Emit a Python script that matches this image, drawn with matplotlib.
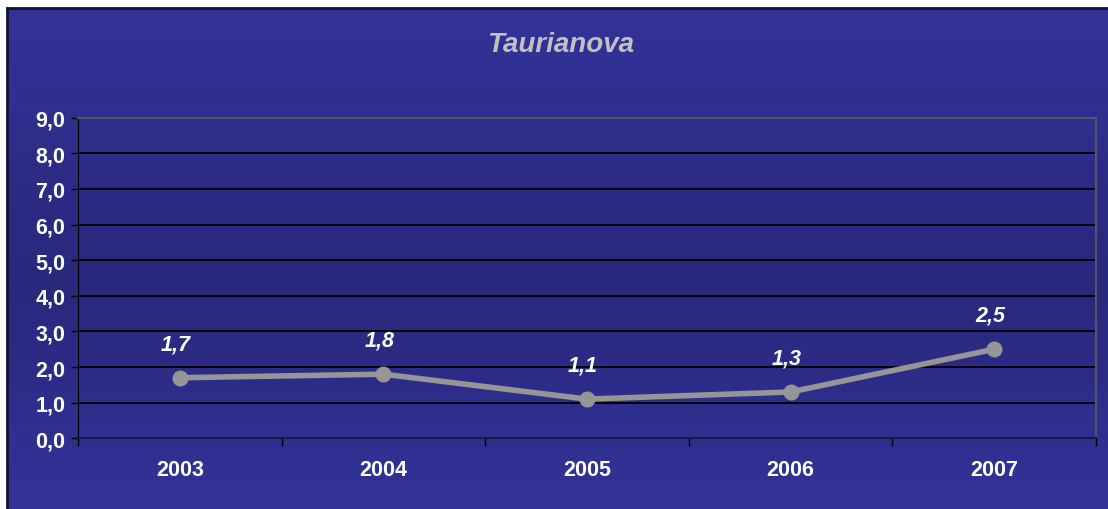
import numpy as np
import matplotlib
matplotlib.use("Agg")
import matplotlib.pyplot as plt
from matplotlib.colors import LinearSegmentedColormap

title = "Taurianova"
years = ["2003", "2004", "2005", "2006", "2007"]
values = [1.7, 1.8, 1.1, 1.3, 2.5]
yticks = [0, 1, 2, 3, 4, 5, 6, 7, 8, 9]

W, H = 1108, 510
fig = plt.figure(figsize=(W / 100, H / 100), dpi=100)
fig.patch.set_facecolor("white")

# background panel with vertical gradient
x0 = 7 / W
bg = fig.add_axes([x0, 0, 1 - x0, 1 - 9 / H])
cmap = LinearSegmentedColormap.from_list(
    "g", [(0.0, "#333399"), (0.55, "#28287c"), (1.0, "#333399")])
grad = np.linspace(0, 1, 256).reshape(-1, 1)
bg.imshow(grad, aspect="auto", cmap=cmap, extent=[0, 1, 0, 1], origin="upper")
bg.set_xlim(0, 1)
bg.set_ylim(0, 1)
bg.set_xticks([])
bg.set_yticks([])
for s in ["bottom", "right"]:
    bg.spines[s].set_visible(False)
for s in ["top", "left"]:
    bg.spines[s].set_color("#111133")
    bg.spines[s].set_linewidth(2)

FS = 15.5
# plot area
left, right = 78, 1096
top, bottom = 118.7, 439.3
ax = fig.add_axes([left / W, 1 - bottom / H, (right - left) / W, (bottom - top) / H])
ax.patch.set_alpha(0)
ax.set_ylim(0, 9)
ax.set_xlim(0, len(years))
ax.set_yticks(yticks)
ax.set_yticklabels([f"{v:.1f}".replace(".", ",") for v in yticks],
                   color="white", fontsize=FS, fontweight="bold",
                   family="Liberation Sans")
for v in yticks[1:-1]:
    ax.axhline(v, color="black", lw=1.3, zorder=1)
ax.tick_params(axis="y", length=5, color="black", width=1, pad=4)

ax.set_xticks(np.arange(len(years) + 1))
ax.set_xticklabels([])
ax.set_xticks(np.arange(len(years)) + 0.5, minor=True)
ax.set_xticklabels(years, minor=True, color="white", fontsize=FS,
                   fontweight="bold", family="Liberation Sans")
ax.tick_params(axis="x", which="major", length=6, color="black", width=1)
ax.tick_params(axis="x", which="minor", length=0, pad=15)

ax.spines["left"].set_color("black")
ax.spines["bottom"].set_color("#1a1a40")
ax.spines["bottom"].set_linewidth(1.5)
for s in ["top", "right"]:
    ax.spines[s].set_color("#555566")
    ax.spines[s].set_linewidth(1.5)

xs = np.arange(len(years)) + 0.5
ax.plot(xs, values, color="#969696", lw=4, marker="o", markersize=10.5,
        zorder=3, clip_on=False)
for x, v in zip(xs, values):
    ax.annotate(f"{v:.1f}".replace(".", ","), (x, v), xytext=(-3, 17),
                textcoords="offset points", ha="center", va="bottom",
                color="white", fontsize=FS, fontweight="bold", style="italic",
                family="Liberation Sans")

fig.text(561 / W, 1 - 45 / H, title, ha="center", va="center",
         color="#c0c0c0", fontsize=20, fontweight="bold", style="italic",
         family="Liberation Sans")

fig.savefig("out.png", dpi=100)
